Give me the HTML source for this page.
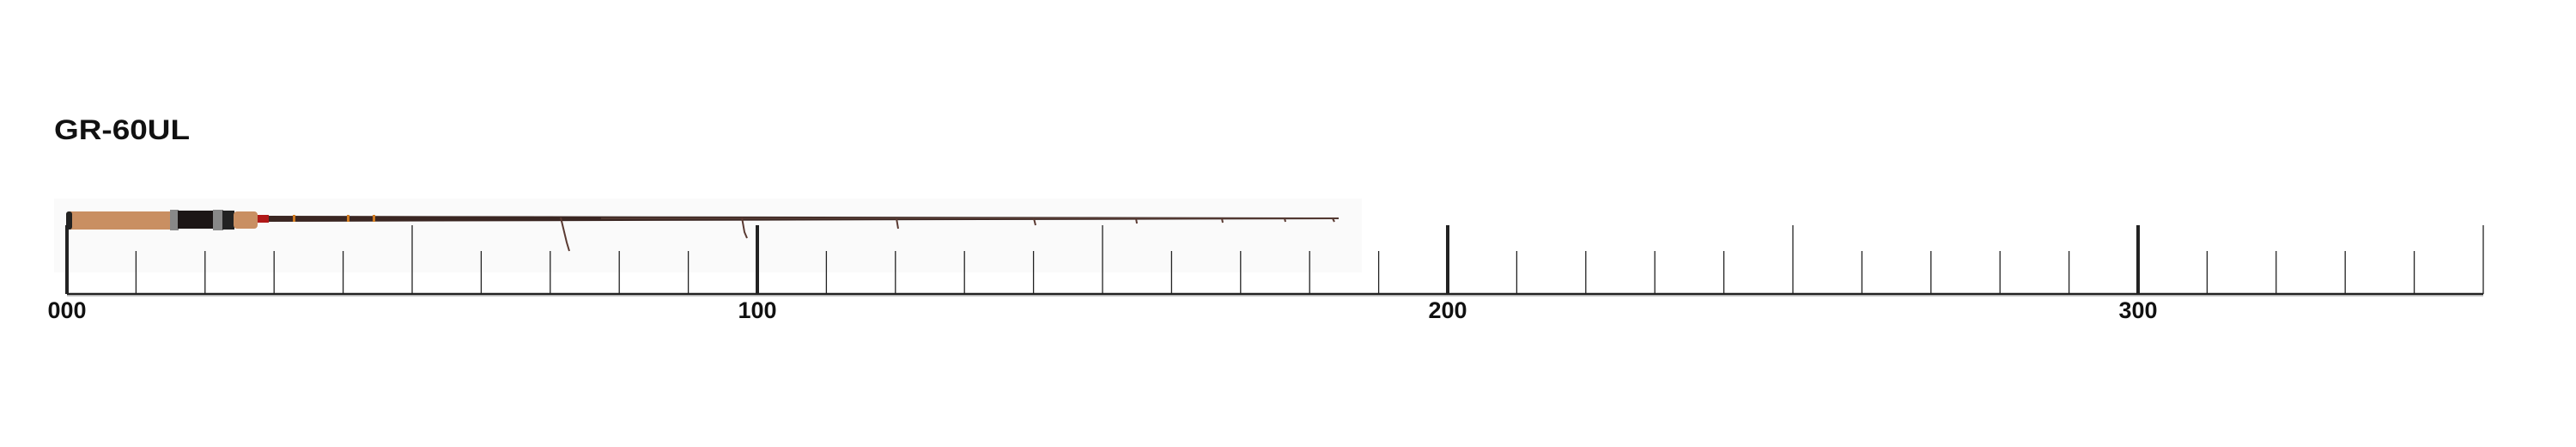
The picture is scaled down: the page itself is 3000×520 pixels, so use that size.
<!DOCTYPE html>
<html><head><meta charset="utf-8"><style>
html,body{margin:0;padding:0;background:#fff;width:3000px;height:520px;overflow:hidden}
svg text{font-family:"Liberation Sans",sans-serif;font-weight:bold}
</style></head><body>
<svg width="3000" height="520" viewBox="0 0 3000 520" xmlns="http://www.w3.org/2000/svg">
<rect x="63" y="231" width="1523" height="86" fill="#fafafa"/>
<text x="63" y="162" font-size="32" fill="#111" textLength="158" lengthAdjust="spacingAndGlyphs">GR-60UL</text>
<g stroke="#222">
<line x1="78" y1="342" x2="2892" y2="342" stroke-width="2.5"/>
<line x1="78" y1="344" x2="2892" y2="344" stroke="#bbb" stroke-width="1.5"/>
</g>
<g stroke="#222" stroke-width="1.3">
<line x1="78" y1="262" x2="78" y2="342" stroke-width="4"/>
<line x1="158.4" y1="292" x2="158.4" y2="342"/>
<line x1="238.8" y1="292" x2="238.8" y2="342"/>
<line x1="319.2" y1="292" x2="319.2" y2="342"/>
<line x1="399.6" y1="292" x2="399.6" y2="342"/>
<line x1="480" y1="262" x2="480" y2="342"/>
<line x1="560.4" y1="292" x2="560.4" y2="342"/>
<line x1="640.8" y1="292" x2="640.8" y2="342"/>
<line x1="721.2" y1="292" x2="721.2" y2="342"/>
<line x1="801.6" y1="292" x2="801.6" y2="342"/>
<line x1="882" y1="262" x2="882" y2="342" stroke-width="4"/>
<line x1="962.4" y1="292" x2="962.4" y2="342"/>
<line x1="1042.8" y1="292" x2="1042.8" y2="342"/>
<line x1="1123.2" y1="292" x2="1123.2" y2="342"/>
<line x1="1203.6" y1="292" x2="1203.6" y2="342"/>
<line x1="1284" y1="262" x2="1284" y2="342"/>
<line x1="1364.4" y1="292" x2="1364.4" y2="342"/>
<line x1="1444.8" y1="292" x2="1444.8" y2="342"/>
<line x1="1525.2" y1="292" x2="1525.2" y2="342"/>
<line x1="1605.6" y1="292" x2="1605.6" y2="342"/>
<line x1="1686" y1="262" x2="1686" y2="342" stroke-width="4"/>
<line x1="1766.4" y1="292" x2="1766.4" y2="342"/>
<line x1="1846.8" y1="292" x2="1846.8" y2="342"/>
<line x1="1927.2" y1="292" x2="1927.2" y2="342"/>
<line x1="2007.6" y1="292" x2="2007.6" y2="342"/>
<line x1="2088" y1="262" x2="2088" y2="342"/>
<line x1="2168.4" y1="292" x2="2168.4" y2="342"/>
<line x1="2248.8" y1="292" x2="2248.8" y2="342"/>
<line x1="2329.2" y1="292" x2="2329.2" y2="342"/>
<line x1="2409.6" y1="292" x2="2409.6" y2="342"/>
<line x1="2490" y1="262" x2="2490" y2="342" stroke-width="4"/>
<line x1="2570.4" y1="292" x2="2570.4" y2="342"/>
<line x1="2650.8" y1="292" x2="2650.8" y2="342"/>
<line x1="2731.2" y1="292" x2="2731.2" y2="342"/>
<line x1="2811.6" y1="292" x2="2811.6" y2="342"/>
<line x1="2892" y1="262" x2="2892" y2="342"/>
</g>
<polygon points="312,251 1559,253 1559,255 312,258" fill="#3a2622"/>
<line x1="700" y1="254" x2="1559" y2="254" stroke="#6a4a40" stroke-width="1"/>
<rect x="300" y="250" width="13" height="9" fill="#b01818"/>
<rect x="77" y="246" width="125" height="21" rx="4" fill="#c98f62"/>
<rect x="77" y="246" width="7" height="21" rx="3" fill="#222"/>
<rect x="198" y="244" width="10" height="24" fill="#888"/>
<rect x="207" y="245" width="45" height="21" fill="#1c1616"/>
<rect x="248" y="244" width="12" height="24" fill="#888"/>
<rect x="259" y="245" width="14" height="22" fill="#222"/>
<rect x="272" y="246" width="28" height="20" rx="4" fill="#c98f62"/>
<g fill="#d07a20"><rect x="341" y="250" width="3" height="8"/><rect x="404" y="250" width="3" height="8"/><rect x="434" y="250" width="3" height="8"/></g>
<g stroke="#5a3a32" stroke-width="2" fill="none">
<path d="M653,253 L660,282 L663,292"/>
<path d="M864,253 L867,270 L870,277"/>
<path d="M1044,254 L1046,266"/>
<path d="M1204,254 L1206,262"/>
<path d="M1323,254 L1324,260"/>
<path d="M1423,254 L1424,259"/>
<path d="M1496,254 L1497,258"/>
<path d="M1552,254 L1554,258"/>
</g>
<g font-size="27" fill="#111" text-anchor="middle">
<text x="78" y="370">000</text>
<text x="882" y="370">100</text>
<text x="1686" y="370">200</text>
<text x="2490" y="370">300</text>
</g>
</svg>
</body></html>
